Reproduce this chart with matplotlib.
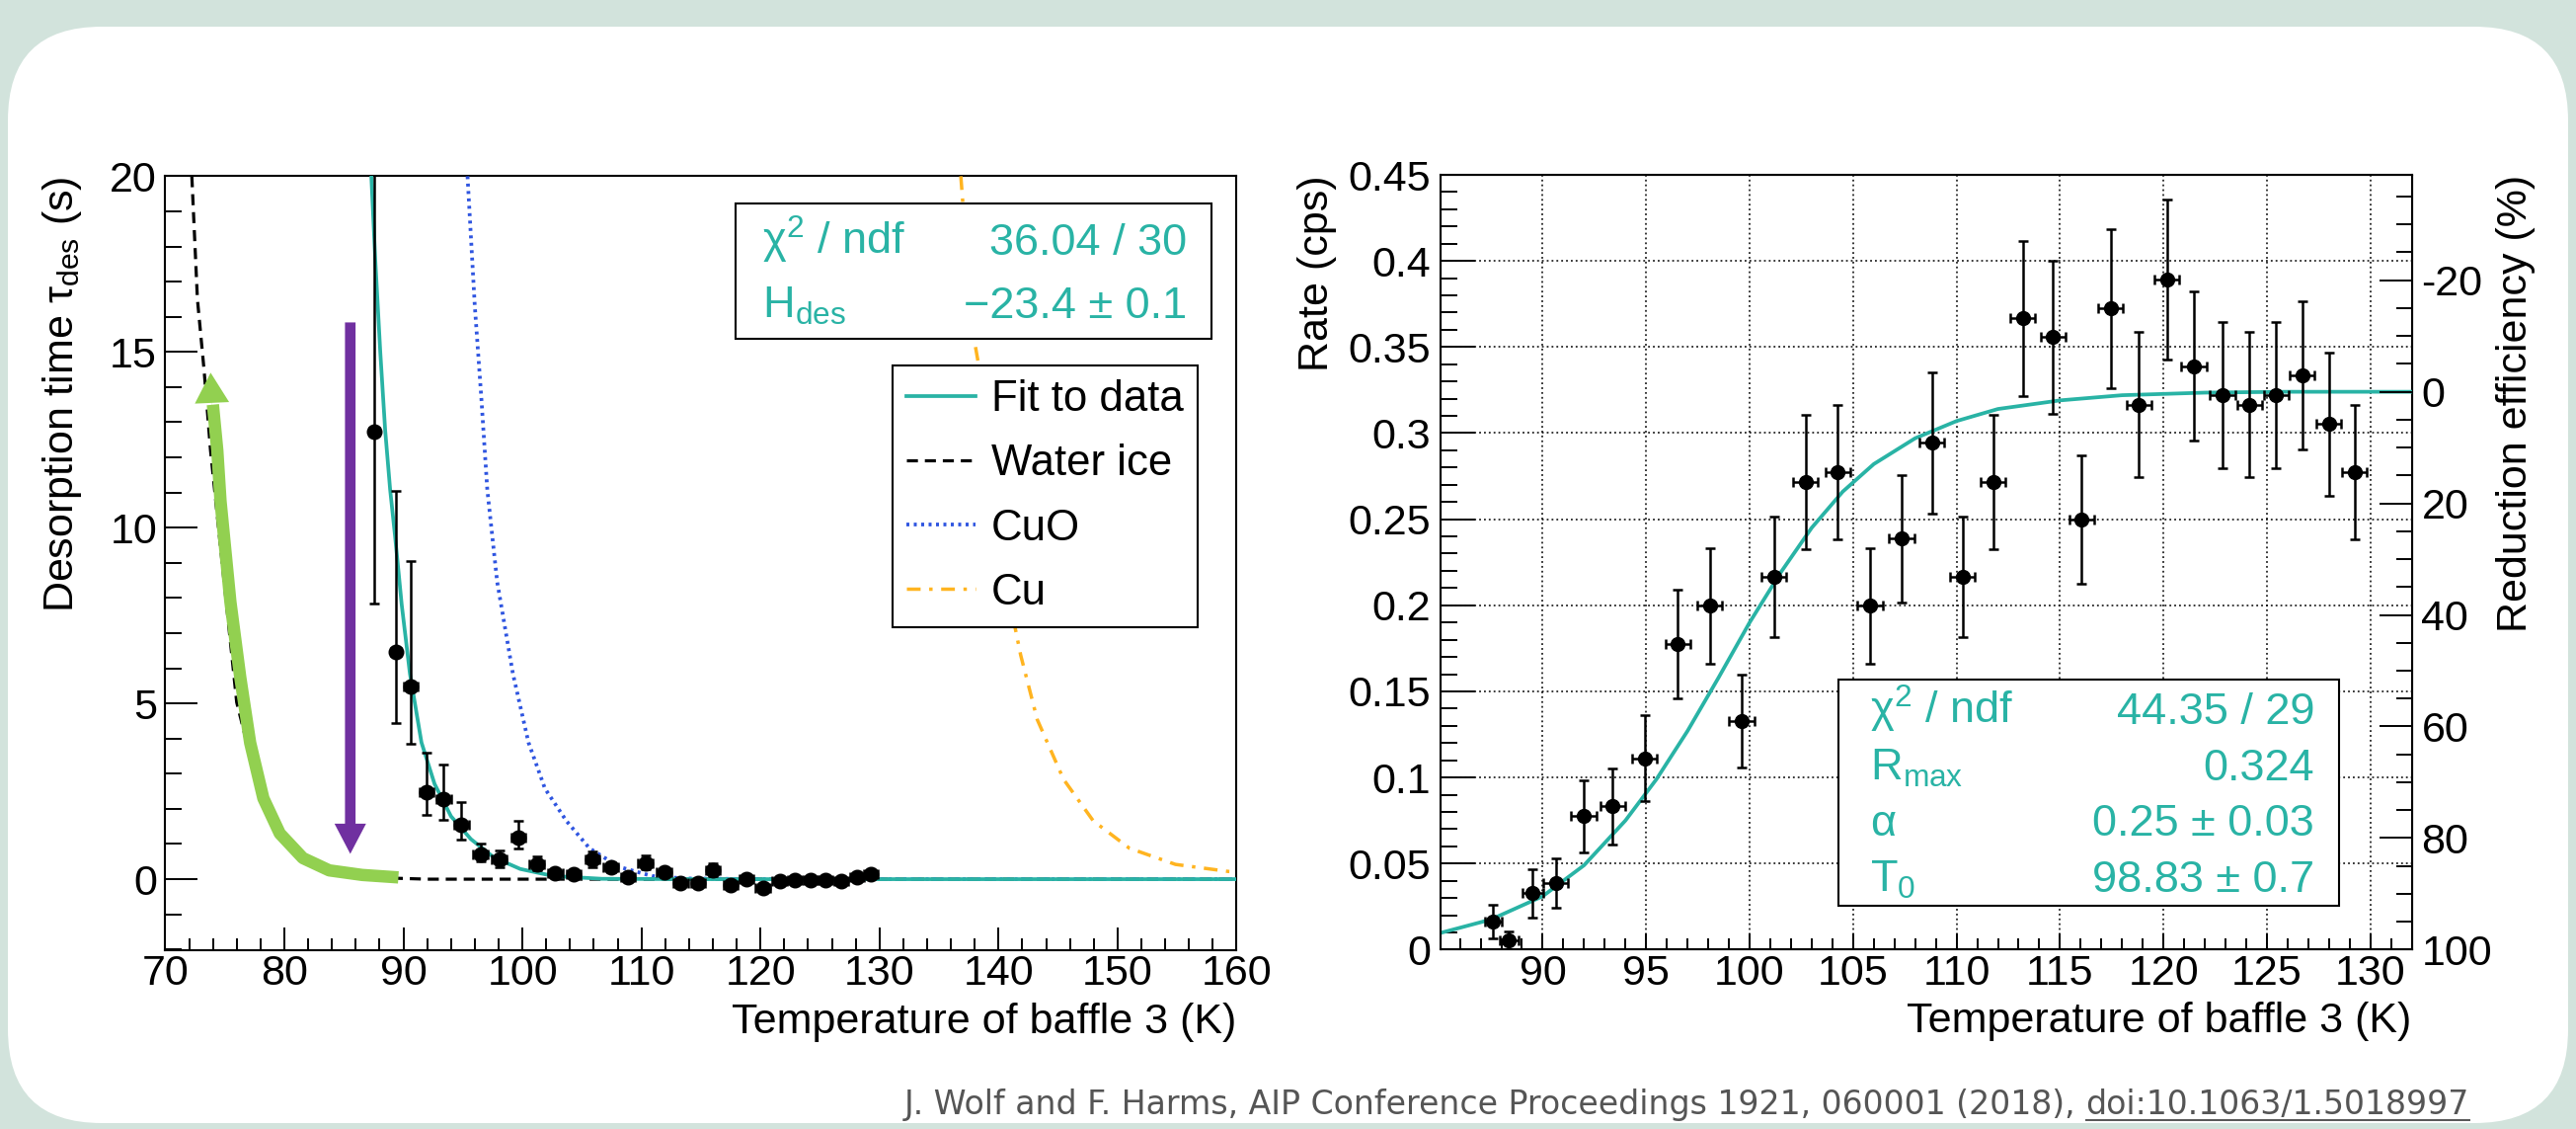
import matplotlib
matplotlib.use('Agg')
import matplotlib.pyplot as plt
from matplotlib.patches import FancyBboxPatch, FancyArrowPatch, Rectangle
from matplotlib.ticker import MultipleLocator, FuncFormatter

plt.rcParams['font.family'] = ['Liberation Sans', 'DejaVu Sans']
plt.rcParams['mathtext.fontset'] = 'custom'
plt.rcParams['mathtext.rm'] = 'Liberation Sans'
plt.rcParams['mathtext.it'] = 'Liberation Sans:italic'
plt.rcParams['mathtext.default'] = 'regular'

TEAL = '#29b3a5'
GREEN = '#92d050'
PURPLE = '#7030a0'
GREY = '#555555'
FS = 31

# ---- left panel: desorption time vs temperature of baffle 3 ----
temp_tau = [87.56, 89.39, 90.6, 91.93, 93.39, 94.89, 96.47, 98.05, 99.64, 101.2,
            102.77, 104.3, 105.87, 107.42, 108.86, 110.33, 111.9, 113.29, 114.75, 116.0,
            117.5, 118.8, 120.2, 121.6, 122.9, 124.2, 125.46, 126.8, 128.1, 129.25]
tau = [12.74, 6.46, 5.48, 2.47, 2.29, 1.56, 0.71, 0.55, 1.18, 0.42,
       0.16, 0.13, 0.55, 0.33, 0.05, 0.46, 0.2, -0.1, -0.1, 0.26,
       -0.17, 0.0, -0.24, -0.06, -0.02, -0.02, -0.03, -0.06, 0.06, 0.15]
tau_err_lo = [4.9, 2.03, 1.62, 0.65, 0.6, 0.42, 0.2, 0.2, 0.3, 0.17,
              0.1, 0.1, 0.22, 0.12, 0.1, 0.18, 0.1, 0.1, 0.1, 0.18,
              0.1, 0.1, 0.1, 0.08, 0.08, 0.08, 0.08, 0.08, 0.08, 0.08]
tau_err_hi = [10.5, 4.59, 3.56, 1.12, 0.98, 0.62, 0.29, 0.26, 0.48, 0.22,
              0.12, 0.12, 0.25, 0.14, 0.1, 0.22, 0.12, 0.1, 0.1, 0.2,
              0.1, 0.1, 0.1, 0.08, 0.08, 0.08, 0.08, 0.08, 0.08, 0.08]
temp_tau_err = [0.4, 0.4] + [0.6] * 28

fit_T = [87.31, 87.64, 88.06, 88.47, 88.89, 89.3, 89.86, 90.55, 91.52, 92.62,
         94.0, 95.67, 97.6, 99.82, 102.58, 106.7, 115.0, 160.0]
fit_tau = [20.0, 17.62, 15.0, 12.78, 11.08, 9.77, 7.81, 5.85, 3.89, 2.71,
           1.79, 1.14, 0.62, 0.29, 0.09, 0.01, 0.0, 0.0]

ice_T = [72.23, 72.7, 73.26, 73.8, 74.9, 76.0, 77.5, 79.0, 81.0, 83.0, 86.0, 89.0, 92.0, 160.0]
ice_tau = [20.0, 16.5, 14.48, 12.2, 8.6, 5.03, 3.0, 1.7, 0.8, 0.4, 0.12, 0.03, 0.0, 0.0]

cuo_T = [95.39, 96.0, 96.55, 97.05, 97.88, 99.2, 100.51, 101.89, 103.69, 105.63,
         108.12, 110.88, 113.64, 120.0, 160.0]
cuo_tau = [20.0, 16.31, 13.69, 11.08, 8.46, 5.85, 3.89, 2.58, 1.66, 0.88,
           0.35, 0.09, 0.02, 0.0, 0.0]

cu_T = [136.83, 137.4, 138.0, 138.27, 139.5, 140.7, 141.86, 143.25, 145.46, 147.95,
        150.99, 154.86, 159.29, 160.0]
cu_tau = [20.0, 17.4, 15.26, 14.74, 10.9, 8.3, 6.37, 4.54, 2.84, 1.66,
          0.88, 0.42, 0.22, 0.21]

# green annotation arrow (follows the water-ice curve)
green_T = [89.58, 86.54, 83.77, 81.56, 79.62, 78.24, 77.13, 76.3, 75.47, 74.64, 74.37, 74.0]
green_tau = [0.05, 0.12, 0.25, 0.6, 1.3, 2.3, 3.88, 5.74, 7.89, 10.76, 12.2, 13.5]
green_tip = (73.81, 14.41)
# purple arrow
purple_T = 85.54
purple_tau = (15.84, 0.72)

# ---- right panel: rate vs temperature of baffle 3 ----
temp_rate = [87.6, 88.37, 89.52, 90.64, 91.98, 93.39, 94.92, 96.52, 98.08, 99.62,
             101.18, 102.71, 104.25, 105.82, 107.35, 108.82, 110.29, 111.76, 113.2, 114.67,
             116.04, 117.45, 118.82, 120.16, 121.47, 122.85, 124.16, 125.44, 126.71, 127.99,
             129.24]
rate = [0.0162, 0.0053, 0.0327, 0.0386, 0.0776, 0.0832, 0.111, 0.1776, 0.1997, 0.133,
        0.2165, 0.2716, 0.2775, 0.1997, 0.2386, 0.2944, 0.2165, 0.2716, 0.3667, 0.3557,
        0.2498, 0.3723, 0.3165, 0.389, 0.3389, 0.3221, 0.3165, 0.3221, 0.3333, 0.3053,
        0.2775]
rate_err = [0.0097, 0.0055, 0.014, 0.0145, 0.021, 0.022, 0.025, 0.0315, 0.0335, 0.027,
            0.035, 0.039, 0.039, 0.0335, 0.037, 0.041, 0.035, 0.039, 0.045, 0.0445,
            0.0374, 0.046, 0.042, 0.0464, 0.0435, 0.0424, 0.042, 0.0424, 0.043, 0.0415,
            0.039]
temp_rate_err = [0.4, 0.45, 0.5] + [0.6] * 28

rfit_T = [85.0, 87.5, 90.0, 92.0, 94.0, 95.5, 97.0, 98.5, 100.0, 101.5,
          103.0, 104.5, 106.0, 108.0, 110.0, 112.0, 115.0, 118.0, 122.0, 126.0, 132.0]
rfit_R = [0.0095, 0.0175, 0.031, 0.049, 0.075, 0.099, 0.127, 0.158, 0.19, 0.219,
          0.245, 0.266, 0.282, 0.297, 0.307, 0.314, 0.319, 0.322, 0.3235, 0.324, 0.324]
R_MAX = 0.324

W, H = 2609, 1143
fig = plt.figure(figsize=(W / 100, H / 100), dpi=100, facecolor='#d2e3dc')


def pixel_axes(z):
    a = fig.add_axes([0, 0, 1, 1], zorder=z)
    a.set_xlim(0, W)
    a.set_ylim(H, 0)
    a.axis('off')
    a.patch.set_alpha(0)
    return a


bg = pixel_axes(0)
bg.add_patch(FancyBboxPatch((8, 27), W - 16, H - 27 - 6,
                            boxstyle='round,pad=0,rounding_size=95',
                            fc='white', ec='none'))

# ---------------- left plot ----------------
axL = fig.add_axes([167.4 / W, 1 - 962.3 / H, (1252.5 - 167.4) / W, (962.3 - 178.4) / H], zorder=2)
axL.set_xlim(70, 160)
axL.set_ylim(-2.03, 20)

l_ice, = axL.plot(ice_T, ice_tau, color='black', lw=2.3, ls=(0, (3.5, 2.2)), zorder=3)
l_cuo, = axL.plot(cuo_T, cuo_tau, color='#2f55e0', lw=2.7, ls=(0, (0.8, 1.2)), zorder=3)
l_cu, = axL.plot(cu_T, cu_tau, color='#ffb420', lw=2.5, ls=(0, (4, 2.5, 1, 2.5)), zorder=3)
l_fit, = axL.plot(fit_T, fit_tau, color=TEAL, lw=2.7, zorder=4)
axL.errorbar(temp_tau, tau, yerr=[tau_err_lo, tau_err_hi], xerr=temp_tau_err, fmt='o',
             color='black', ms=10.5, lw=1.8, capsize=3.8, capthick=1.8, zorder=5)

axL.plot(green_T, green_tau, color=GREEN, lw=9, solid_capstyle='butt',
         solid_joinstyle='round', zorder=6)
axL.add_patch(FancyArrowPatch((74.05, 12.6), green_tip,
                              arrowstyle='simple,head_length=22,head_width=25,tail_width=0.1',
                              mutation_scale=1, color=GREEN, lw=0, zorder=6,
                              shrinkA=0, shrinkB=0))
axL.add_patch(FancyArrowPatch((purple_T, purple_tau[0]), (purple_T, purple_tau[1]),
                              arrowstyle='simple,head_length=22,head_width=23,tail_width=7.7',
                              mutation_scale=1, color=PURPLE, lw=0, zorder=6,
                              shrinkA=0, shrinkB=0))

axL.xaxis.set_major_locator(MultipleLocator(10))
axL.xaxis.set_minor_locator(MultipleLocator(2))
axL.yaxis.set_major_locator(MultipleLocator(5))
axL.yaxis.set_minor_locator(MultipleLocator(1))
axL.tick_params(axis='both', which='both', direction='in', width=1.4, labelsize=FS,
                top=False, right=False)
axL.tick_params(axis='x', which='major', length=16.5, pad=3)
axL.tick_params(axis='x', which='minor', length=8.6)
axL.tick_params(axis='y', which='major', length=24, pad=6)
axL.tick_params(axis='y', which='minor', length=12)
for s in axL.spines.values():
    s.set_linewidth(1.5)

axL.set_xlabel('Temperature of baffle 3 (K)', fontsize=FS, loc='right')
axL.xaxis.set_label_coords(1.0, -0.067)
axL.set_ylabel('Desorption time τ$_{des}$ (s)', fontsize=FS, loc='top')
axL.yaxis.set_label_coords(-0.076, 1.0)

axL.legend([l_fit, l_ice, l_cuo, l_cu], ['Fit to data', 'Water ice', 'CuO', 'Cu'],
           loc='upper left', bbox_to_anchor=(0.6788, 0.7556), borderaxespad=0,
           fontsize=31.5, handlelength=1.6, handletextpad=0.35, labelspacing=0.55,
           borderpad=0.33, fancybox=False, framealpha=1, edgecolor='black')
axL.get_legend().get_frame().set_linewidth(1.5)

# ---------------- right plot ----------------
axR = fig.add_axes([1458.7 / W, 1 - 961.4 / H, (2442.7 - 1458.7) / W, (961.4 - 177) / H], zorder=2)
axR.set_xlim(85.05, 132)
axR.set_ylim(0, 0.45)
axR.set_axisbelow(True)
axR.grid(True, which='major', color='black', lw=1.1, ls=(0, (1.2, 2)))

axR.plot(rfit_T, rfit_R, color=TEAL, lw=2.7, zorder=4)
axR.errorbar(temp_rate, rate, yerr=rate_err, xerr=temp_rate_err, fmt='o',
             color='black', ms=10, lw=1.8, capsize=3.5, capthick=1.8, zorder=5)

axR.xaxis.set_major_locator(MultipleLocator(5))
axR.xaxis.set_minor_locator(MultipleLocator(1))
axR.yaxis.set_major_locator(MultipleLocator(0.05))
axR.yaxis.set_minor_locator(MultipleLocator(0.01))
axR.yaxis.set_major_formatter(FuncFormatter(lambda v, p: '0' if abs(v) < 1e-9 else f'{v:g}'))
axR.tick_params(axis='both', which='both', direction='in', width=1.4, labelsize=FS,
                top=False, right=False)
axR.tick_params(axis='x', which='major', length=11.3, pad=3)
axR.tick_params(axis='x', which='minor', length=7.7)
axR.tick_params(axis='y', which='major', length=25, pad=7)
axR.tick_params(axis='y', which='minor', length=12.2)
for s in axR.spines.values():
    s.set_linewidth(1.5)

axR.set_xlabel('Temperature of baffle 3 (K)', fontsize=FS, loc='right')
axR.xaxis.set_label_coords(1.0, -0.067)
axR.set_ylabel('Rate (cps)', fontsize=FS, loc='top')
axR.yaxis.set_label_coords(-0.106, 1.0)

ax2 = axR.twinx()
ax2.set_ylim(100 * (1 - 0 / R_MAX), 100 * (1 - 0.45 / R_MAX))
ax2.yaxis.set_major_locator(MultipleLocator(20))
ax2.yaxis.set_minor_locator(MultipleLocator(5))
ax2.yaxis.set_major_formatter(FuncFormatter(lambda v, p: f'{v:.0f}'))
ax2.tick_params(axis='y', which='both', direction='in', width=1.4, labelsize=FS)
ax2.tick_params(axis='y', which='major', length=24, pad=7)
ax2.tick_params(axis='y', which='minor', length=11.5)
ax2.set_ylabel('Reduction efficiency (%)', fontsize=FS, loc='top')
ax2.yaxis.set_label_coords(1.087, 1.0)

# ---------------- fit statistics boxes ----------------
ov = pixel_axes(10)


def stats_box(x0, y0, x1, y1, xl, xr, rows, baselines):
    ov.add_patch(Rectangle((x0, y0), x1 - x0, y1 - y0, fc='white', ec='black', lw=1.5))
    for (lab, val), yb in zip(rows, baselines):
        ov.text(xl, yb, lab, ha='left', va='baseline', fontsize=32.5, color=TEAL)
        ov.text(xr, yb, val, ha='right', va='baseline', fontsize=32.5, color=TEAL)


stats_box(745, 206, 1227, 343, 772, 1202,
          [('χ$^{2}$ / ndf', '36.04 / 30'), ('H$_{des}$', '−23.4 ± 0.1')],
          [258, 322])
stats_box(1862, 688, 2369, 917, 1894, 2344,
          [('χ$^{2}$ / ndf', '44.35 / 29'), ('R$_{max}$', '0.324'),
           ('α', '0.25 ± 0.03'), ('T$_{0}$', '98.83 ± 0.7')],
          [733, 790, 846, 903])

# ---------------- footer ----------------
cite = 'J. Wolf and F. Harms, AIP Conference Proceedings 1921, 060001 (2018), '
doi = 'doi:10.1063/1.5018997'
renderer = fig.canvas.get_renderer()
probe = ov.text(0, 0, cite + doi, fontsize=20, family='DejaVu Sans')
w = probe.get_window_extent(renderer).width
probe.remove()
fs = 20 * 1586 / w

t_doi = ov.text(2501, 1128, doi, ha='right', va='baseline', fontsize=fs,
                color=GREY, family='DejaVu Sans')
bb = t_doi.get_window_extent(renderer)
x_left = ov.transData.inverted().transform((bb.x0, bb.y0))[0]
x_right = ov.transData.inverted().transform((bb.x1, bb.y0))[0]
ov.text(x_left, 1128, cite, ha='right', va='baseline', fontsize=fs,
        color=GREY, family='DejaVu Sans')
ov.plot([x_left, x_right], [1134, 1134], color=GREY, lw=1.4)

fig.savefig('out.png', dpi=100, facecolor=fig.get_facecolor())
